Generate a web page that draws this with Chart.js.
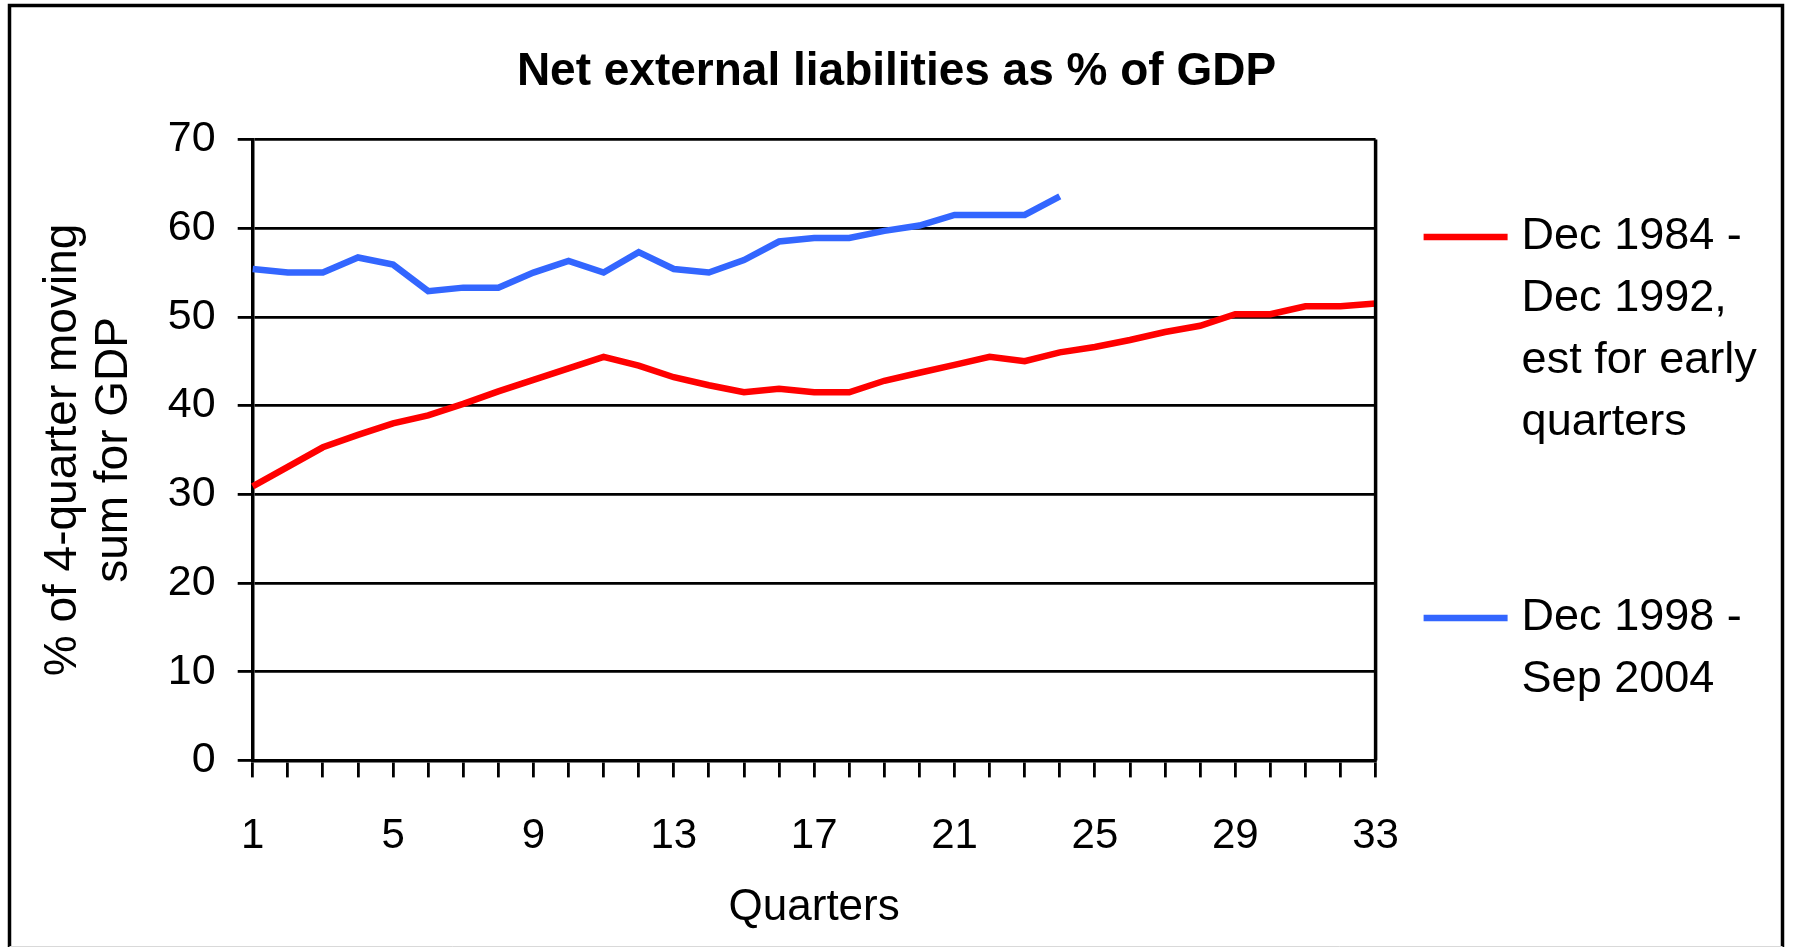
<!DOCTYPE html>
<html>
<head>
<meta charset="utf-8">
<script src="https://cdn.jsdelivr.net/npm/chart.js@4.4.1/dist/chart.umd.min.js"></script>
<style>
  html, body { margin: 0; padding: 0; background: #ffffff; }
  #wrap { width: 1793px; height: 947px; }
</style>
</head>
<body>
<div id="wrap"><canvas id="c" width="1793" height="947"></canvas></div>
<script>
// ---- data ----
const quarters = ['1','2','3','4','5','6','7','8','9','10','11','12','13','14','15','16','17','18','19','20','21','22','23','24','25','26','27','28','29','30','31','32','33'];
const series1Label = ['Dec 1984 -', 'Dec 1992,', 'est for early', 'quarters'];
const series1 = [30.9, 33.1, 35.3, 36.7, 38.0, 38.9, 40.2, 41.6, 42.9, 44.2, 45.5, 44.5, 43.2, 42.3, 41.5, 41.9, 41.5, 41.5, 42.8, 43.7, 44.6, 45.5, 45.0, 46.0, 46.6, 47.4, 48.3, 49.0, 50.3, 50.3, 51.2, 51.2, 51.5];
const series2Label = ['Dec 1998 -', 'Sep 2004'];
const series2 = [55.4, 55.0, 55.0, 56.7, 55.9, 52.9, 53.3, 53.3, 55.0, 56.3, 55.0, 57.3, 55.4, 55.0, 56.4, 58.5, 58.9, 58.9, 59.7, 60.3, 61.5, 61.5, 61.5, 63.6];
const yTicks = [0, 10, 20, 30, 40, 50, 60, 70];
const titleText = 'Net external liabilities as % of GDP';
const yTitle = ['% of 4-quarter moving', 'sum for GDP'];
const xTitle = 'Quarters';

const FONT = '"Liberation Sans", Arial, Helvetica, sans-serif';
const RED = '#ff0000';
const BLUE = '#3366ff';

const framePlugin = {
  id: 'frame',
  beforeDraw(chart) {
    const ctx = chart.ctx;
    ctx.save();
    ctx.fillStyle = '#ffffff';
    ctx.fillRect(0, 0, chart.width, chart.height);
    ctx.strokeStyle = '#000000';
    ctx.lineWidth = 3.5;
    ctx.beginPath();
    ctx.moveTo(9.5, chart.height);
    ctx.lineTo(9.5, 5.5);
    ctx.lineTo(1782.5, 5.5);
    ctx.lineTo(1782.5, chart.height);
    ctx.stroke();
    ctx.strokeStyle = '#d9d9d9';
    ctx.lineWidth = 1;
    ctx.beginPath();
    ctx.moveTo(9.5, chart.height - 0.5);
    ctx.lineTo(1782.5, chart.height - 0.5);
    ctx.stroke();
    ctx.restore();
  },
  afterDraw(chart) {
    const ctx = chart.ctx;
    const a = chart.chartArea;
    ctx.save();
    // plot area right border
    ctx.strokeStyle = '#000000';
    ctx.lineWidth = 3.5;
    ctx.beginPath();
    ctx.moveTo(a.right, a.top);
    ctx.lineTo(a.right, a.bottom);
    ctx.stroke();
    // legend
    const entries = [
      { ds: chart.data.datasets[0], y: 237 },
      { ds: chart.data.datasets[1], y: 618 }
    ];
    const sx0 = a.right + 48, sx1 = a.right + 132, tx = a.right + 146;
    ctx.font = '45px ' + FONT;
    ctx.textBaseline = 'middle';
    ctx.textAlign = 'left';
    ctx.fillStyle = '#000000';
    entries.forEach(e => {
      ctx.strokeStyle = e.ds.borderColor;
      ctx.lineWidth = 6.5;
      ctx.beginPath();
      ctx.moveTo(sx0, e.y);
      ctx.lineTo(sx1, e.y);
      ctx.stroke();
      e.ds.label.forEach((line, i) => {
        ctx.fillText(line, tx, e.y + i * 61.7);
      });
    });
    ctx.restore();
  }
};

new Chart(document.getElementById('c'), {
  type: 'line',
  data: {
    labels: quarters,
    datasets: [
      { label: series1Label, data: series1, borderColor: RED, backgroundColor: RED, borderWidth: 6.5, pointRadius: 0, tension: 0, fill: false },
      { label: series2Label, data: series2, borderColor: BLUE, backgroundColor: BLUE, borderWidth: 6.5, pointRadius: 0, tension: 0, fill: false }
    ]
  },
  options: {
    responsive: false,
    animation: false,
    devicePixelRatio: 1,
    layout: { padding: { top: 0, left: 0, right: 0, bottom: 0 } },
    plugins: {
      legend: { display: false },
      tooltip: { enabled: false },
      title: {
        display: true,
        text: titleText,
        color: '#000000',
        font: { family: FONT, size: 46, weight: 'bold', lineHeight: 1.2 },
        padding: { top: 45, bottom: 39.3 }
      }
    },
    scales: {
      x: {
        type: 'category',
        offset: false,
        afterFit(s) { s.height = 186.6; },
        grid: { display: true, drawOnChartArea: false, drawTicks: true, tickLength: 17, color: '#000000', lineWidth: 2.8 },
        border: { display: true, color: '#000000', width: 3.5 },
        ticks: {
          autoSkip: false, maxRotation: 0, minRotation: 0, padding: 34,
          color: '#000000',
          font: { family: FONT, size: 42 },
          callback(v, i) { return i % 4 === 0 ? quarters[i] : ''; }
        },
        title: {
          display: true, text: xTitle, color: '#000000',
          font: { family: FONT, size: 44, lineHeight: 1.2 },
          padding: { top: 0, bottom: 12.5 }
        }
      },
      y: {
        min: 0, max: 70,
        afterFit(s) { s.width = 252.7; },
        afterBuildTicks(s) { s.ticks = yTicks.map(v => ({ value: v })); },
        grid: { display: true, drawOnChartArea: true, drawTicks: true, tickLength: 15, color: '#000000', lineWidth: 2.8 },
        border: { display: true, color: '#000000', width: 3.5 },
        ticks: { padding: 22, color: '#000000', font: { family: FONT, size: 43 } },
        title: {
          display: true, text: yTitle, color: '#000000',
          font: { family: FONT, size: 46, lineHeight: 1.11 },
          padding: { top: 37.5, bottom: 0 }
        }
      },
      legendSpace: {
        type: 'linear',
        position: 'right',
        display: true,
        afterFit(s) { s.width = 417.4; },
        grid: { display: false, drawTicks: false },
        border: { display: false },
        ticks: { display: false },
        title: { display: false }
      }
    }
  },
  plugins: [framePlugin]
});
</script>
</body>
</html>
